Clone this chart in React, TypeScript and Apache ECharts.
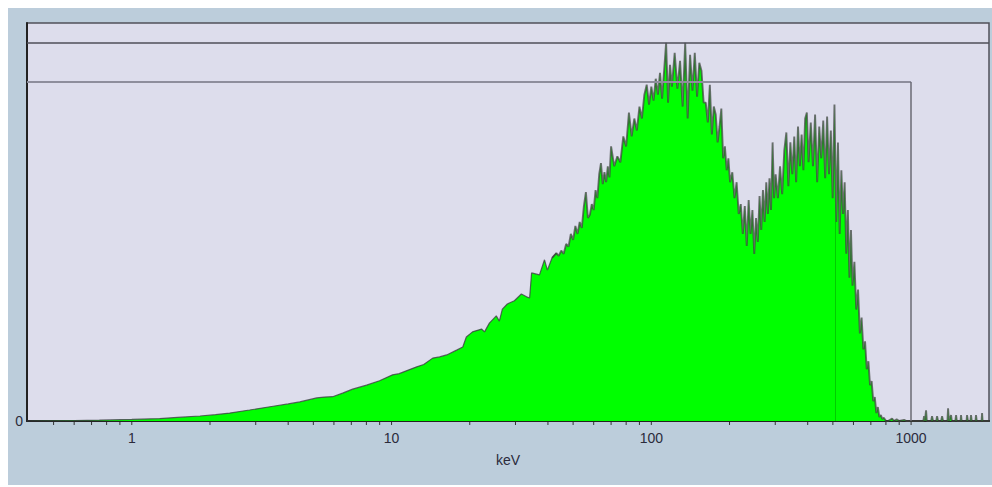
import React, { useEffect, useRef } from "react";
import * as echarts from "echarts";

// ---- Data (energy in keV, counts in arbitrary units 0..1000) ----
const smoothEnergy = [0.395, 0.5, 0.6, 0.75, 1.0, 1.28, 1.5, 1.83, 2.1, 2.38, 2.84, 3.5, 4.0, 4.43, 5.15, 5.5, 5.93, 6.48, 7.08, 8.01, 8.99, 10.09, 10.7, 11.4, 12.5, 13.3, 14.4, 15.3, 16.3, 17.8, 18.8, 19.4, 20.5, 22.2, 22.8, 23.8, 25.3, 26.0, 26.7, 27.9, 29.7, 31.6, 33.1, 34.0, 34.6, 37.1, 38.8, 39.8, 41.5, 43.1];
const smoothCounts = [0, 0.5, 1, 2, 4, 6, 9, 12.6, 16, 20, 27.6, 37, 43, 48, 58, 60, 61, 70, 80, 90, 101, 116, 119, 126, 136, 142, 158, 161, 166, 178, 186, 211, 224, 231, 224, 246, 264, 251, 281, 294, 302, 319, 312, 309, 372, 367, 405, 379, 410, 422];

const noisyEnergy = [
  44, 45, 46, 47, 48, 49, 50, 51, 52, 53, 54, 55, 56, 57, 58, 59, 60, 61, 62, 63, 64, 65, 66, 67, 68, 69, 70,
  72, 74, 76, 78, 80, 82, 84, 86, 88, 90, 92, 94, 96, 98, 100, 102, 104, 106, 108, 110, 112, 114, 116, 118, 120,
  123, 126, 129, 132, 135, 138, 141, 144, 147, 150, 153, 156, 159, 162, 165, 168, 171, 174, 177, 180, 183, 186, 189, 192, 195, 198, 201,
  205, 209, 213, 217, 221, 225, 229, 233, 237, 241, 245, 249, 253, 257, 261, 265, 269, 273, 277, 281, 285, 289, 293, 297, 301,
  307, 313, 319, 325, 331, 337, 343, 349, 355, 361, 367, 373, 379, 385, 391, 397, 403,
  411, 419, 427, 435, 443, 451, 459, 467, 475, 483, 491, 499, 507, 515, 523, 531, 539, 547, 555, 563, 571, 579, 587, 595,
  605, 615, 625, 635, 645, 655, 665, 675, 685, 695, 705, 715, 725, 735, 745, 755, 765, 775, 785, 795,
];
const noisyCounts = [
  415, 428, 420, 445, 438, 470, 455, 490, 470, 500, 485, 540, 575, 510, 518, 545, 530, 580, 560, 620, 648, 595, 625, 600, 640, 612, 690,
  640, 665, 650, 715, 690, 775, 715, 760, 730, 790, 760, 820, 845, 795, 840, 805, 860, 820, 875, 810, 880, 950, 800, 895, 840,
  925, 835, 905, 790, 950, 760, 920, 830, 925, 815, 900, 880, 800, 800, 750, 845, 720, 790, 770, 700, 740, 785, 660, 690, 630, 660, 600,
  625, 560, 600, 520, 545, 470, 540, 440, 555, 470, 530, 420, 510, 450, 565, 480, 580, 500, 600, 520, 610, 530, 700, 560, 620,
  560, 640, 570, 680, 725, 590, 700, 620, 715, 600, 740, 640, 720, 630, 760, 775, 650,
  750, 640, 770, 600, 740, 660, 755, 610, 765, 620, 730, 560, 795, 500, 700, 470, 630, 520, 600, 420, 530, 360, 480, 340,
  400, 280, 330, 220, 260, 180, 200, 130, 150, 90, 100, 50, 60, 20, 35, 10, 15, 5, 8, 3,
];

const tailEnergy = [800, 815, 845, 860, 880, 900, 940, 960, 1000, 1115, 1122, 1130, 1142, 1150, 1195, 1204, 1215, 1250, 1259, 1270, 1305, 1316, 1328, 1380, 1388, 1398, 1425, 1435, 1480, 1490, 1500, 1550, 1557, 1565, 1635, 1642, 1655, 1692, 1701, 1712, 1770, 1778, 1790, 1868, 1876, 1885, 1995];
const tailCounts = [0, 0, 6, 0, 4, 0, 3, 0, 0, 0, 12, 0, 27, 0, 0, 12, 0, 0, 12, 0, 0, 12, 0, 0, 32, 0, 15, 0, 0, 15, 0, 0, 15, 0, 0, 15, 0, 0, 15, 0, 0, 15, 0, 0, 20, 0, 0];

const xTickValues = [0.5, 0.6, 0.7, 0.8, 0.9, 1, 2, 3, 4, 5, 6, 7, 8, 9, 10, 20, 30, 40, 50, 60, 70, 80, 90, 100, 200, 300, 400, 500, 600, 700, 800, 900, 1000];
const xLabelValues = [1, 10, 100, 1000];

const maxMarker = 950;
const windowLevel = 852;
const windowEnd = 1000;
const annihilationLine = 511;
const annihilationTop = 500;

export default function App() {
  const ref = useRef<HTMLDivElement>(null);

  useEffect(() => {
    if (!ref.current) return;
    const chart = echarts.init(ref.current, undefined, { renderer: "svg" });

    const smoothPart: number[][] = smoothEnergy.map((e, i) => [e, smoothCounts[i]]);
    // the noisy part overlaps the last two smooth points so the two fills join without a seam
    const noisyPart: number[][] = smoothPart.slice(-2);
    noisyEnergy.forEach((e, i) => noisyPart.push([e, noisyCounts[i]]));
    tailEnergy.forEach((e, i) => noisyPart.push([e, tailCounts[i]]));

    const font = "'Liberation Sans', Arial, sans-serif";

    chart.setOption({
      animation: false,
      backgroundColor: "#BCCDDB",
      grid: {
        left: 19,
        top: 15,
        right: 2,
        bottom: 64,
        show: true,
        backgroundColor: "#DDDDEC",
        borderColor: "#50505a",
        borderWidth: 1.5,
      },
      xAxis: {
        type: "log",
        logBase: 10,
        min: 0.395,
        max: 1995,
        name: "keV",
        nameLocation: "middle",
        nameGap: 32,
        nameTextStyle: { color: "#2b2b3b", fontSize: 14, fontFamily: font },
        axisLine: { show: true, lineStyle: { color: "#222", width: 2 } },
        axisTick: { show: false },
        splitLine: { show: false },
        minorTick: { show: false },
        axisLabel: {
          margin: 10,
          color: "#2b2b3b",
          fontSize: 14,
          fontFamily: font,
          formatter: (v: number) => {
            const r = Number(Number(v).toPrecision(6));
            return xLabelValues.includes(r) ? String(r) : "";
          },
        },
      },
      yAxis: {
        type: "value",
        min: 0,
        max: 1000,
        interval: 1000,
        axisLine: { show: true, lineStyle: { color: "#222", width: 2 } },
        axisTick: { show: false },
        splitLine: { show: false },
        axisLabel: {
          margin: 4,
          color: "#2b2b3b",
          fontSize: 14,
          fontFamily: font,
          formatter: (v: number) => (v === 0 ? "0" : ""),
        },
      },
      series: [
        {
          type: "line",
          data: smoothPart,
          symbol: "none",
          lineStyle: { color: "rgba(60,60,66,0.78)", width: 1.2 },
          areaStyle: { color: "#00FF00", opacity: 1 },
          z: 2,
        },
        {
          type: "line",
          data: noisyPart,
          symbol: "none",
          lineStyle: { color: "rgba(62,66,62,0.72)", width: 1.9 },
          areaStyle: { color: "#00FF00", opacity: 1 },
          z: 2,
          markLine: {
            silent: true,
            symbol: ["none", "none"],
            label: { show: false },
            animation: false,
            data: [
              { yAxis: maxMarker, lineStyle: { color: "#4e4e58", width: 1.5, type: "solid" } },
              [
                { coord: [0.395, windowLevel], lineStyle: { color: "#8e8e9c", width: 2, type: "solid" } },
                { coord: [windowEnd, windowLevel] },
              ],
              [
                { coord: [windowEnd, windowLevel], lineStyle: { color: "#6a6a74", width: 1.5, type: "solid" } },
                { coord: [windowEnd, 0] },
              ],
              [
                { coord: [annihilationLine, 0], lineStyle: { color: "rgba(0,90,0,0.3)", width: 1, type: "solid" } },
                { coord: [annihilationLine, annihilationTop] },
              ],
            ],
          },
        },
        {
          type: "custom",
          data: xTickValues.map((t) => [t, 0]),
          clip: false,
          silent: true,
          z: 5,
          renderItem: (params: any, api: any) => {
            const p = api.coord([api.value(0), 0]);
            return {
              type: "line",
              shape: { x1: p[0], y1: p[1] + 1, x2: p[0], y2: p[1] + 4 },
              style: { stroke: "#333", lineWidth: 1 },
            };
          },
        },
      ],
    });

    return () => chart.dispose();
  }, []);

  return (
    <div
      ref={ref}
      style={{ position: "absolute", left: 8, top: 8, width: 984, height: 477 }}
    />
  );
}
